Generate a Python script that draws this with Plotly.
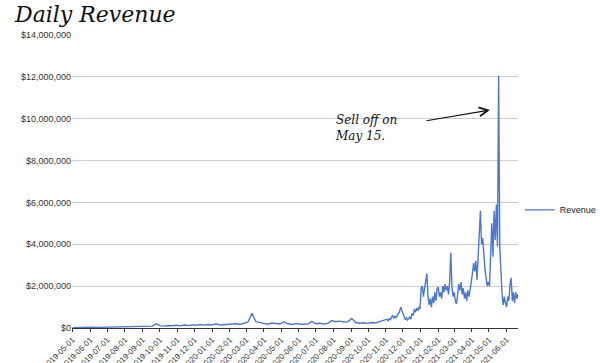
import pandas as pd
import plotly.graph_objects as go

# ---- data (values in thousands of dollars) ----
# weekly readings, 2019-05-01 .. 2020-10-28
weekly_start = "2019-05-01"
weekly_values_k = [
    20, 30, 25, 35, 30, 40, 30, 35, 45,
    40, 50, 45, 55, 60, 50, 65, 60, 70,
    80, 70, 90, 200,
    100, 90, 120, 110, 130, 100, 140, 120, 150,
    130, 160, 140, 170, 150, 200, 140, 160, 170,
    180, 200, 170, 240, 290, 700, 300, 260, 220, 180,
    240, 200, 190, 300, 200, 170, 210, 180, 200, 190,
    320, 200, 230, 190, 220, 360, 300, 330, 280, 300,
    460, 260, 230, 250, 220, 260, 240, 300, 380,
]

# readings every two days, 2020-11-01 .. 2021-06-21
daily_start = "2020-11-01"
nov_2020 = [380, 420, 350, 450, 400, 520, 600, 480, 550, 500, 620, 700, 780, 1000, 850]
dec_2020 = [600, 450, 400, 480, 380, 450, 520, 420, 700, 600, 900, 750, 950, 820, 1000, 900]
jan_2021 = [1900, 2000, 1500, 1900, 2200, 2600, 1500, 1100, 1400, 1000, 1500, 1200, 1700, 1300, 1900]
feb_2021 = [1950, 1500, 1700, 1400, 2000, 1700, 2100, 1800, 2000, 1600, 2200, 3600, 2000, 1500]
mar_2021 = [1700, 1300, 1150, 1600, 2100, 1800, 2200, 1600, 1900, 1400, 1700, 1300, 1800, 1500, 2000, 2200]
apr_2021 = [2600, 3100, 2700, 3200, 2300, 3800, 4500, 5600, 4000, 4300, 3300, 2800, 2400, 2000, 2200]
may_2021 = [2000, 3500, 5000, 3400, 5600, 4200, 5900, 3900, 12050, 3900, 2400, 1600, 1100, 1500, 1200]
jun_2021 = [1000, 1500, 1300, 2100, 2400, 1300, 1700, 1200, 1700, 1400, 1600]

y_tick_vals = [0, 2e6, 4e6, 6e6, 8e6, 10e6, 12e6, 14e6]
series_name = "Revenue"

# ---- build series ----
w_dates = pd.date_range(weekly_start, periods=len(weekly_values_k), freq="7D")
later_k = nov_2020 + dec_2020 + jan_2021 + feb_2021 + mar_2021 + apr_2021 + may_2021 + jun_2021
d_dates = pd.date_range(daily_start, periods=len(later_k), freq="2D")
dates = list(w_dates) + list(d_dates)
values = [v * 1000 for v in weekly_values_k + later_k]

fig = go.Figure()
fig.add_trace(go.Scatter(
    x=dates, y=values, mode="lines", name=series_name,
    line=dict(color="#4a78d0", width=1.4),
))

fig.update_layout(
    width=600, height=363,
    margin=dict(l=72, r=82, t=35, b=35, autoexpand=False),
    paper_bgcolor="white", plot_bgcolor="white",
    font=dict(family="Liberation Sans, Arial, sans-serif", size=9, color="#333333"),
    showlegend=True,
    legend=dict(x=1.004, xanchor="left", y=0.403, yanchor="middle",
                font=dict(size=9, color="#222222"), itemwidth=30,
                bgcolor="rgba(0,0,0,0)"),
    xaxis=dict(
        type="date", automargin=False,
        range=["2019-04-30", "2021-06-21"],
        tickformat="%Y-%m-%d", dtick="M1", tick0="2019-05-01",
        tickangle=-45, ticks="outside", ticklen=3, tickcolor="#333333",
        showgrid=False, showline=True, linecolor="#333333", linewidth=1,
        tickfont=dict(size=8, color="#333333"),
    ),
    yaxis=dict(
        automargin=False,
        range=[0, 14e6], tickvals=y_tick_vals, tickformat="$,.0f",
        showgrid=True, gridcolor="#cccccc", gridwidth=1,
        zeroline=False, showline=False, ticks="", ticklen=0,
        tickfont=dict(size=9, color="#333333"),
    ),
)

# handwritten-style title
fig.add_annotation(
    text="Daily Revenue", xref="paper", yref="paper",
    x=-0.135, y=1.118, xanchor="left", yanchor="top", showarrow=False,
    font=dict(family="DejaVu Serif, serif", size=22, color="#111111", style="italic"),
)

# note and arrow
fig.add_annotation(
    text="Sell off on<br>May 15.", xref="paper", yref="paper",
    x=0.585, y=0.683, xanchor="left", yanchor="middle", align="left",
    showarrow=False,
    font=dict(family="DejaVu Serif, serif", size=12, color="#111111", style="italic"),
)
fig.add_annotation(
    text="", xref="paper", yref="paper", x=0.937, y=0.744,
    ax=-65, ay=11, showarrow=True, arrowhead=5, arrowsize=1.6,
    arrowwidth=1.1, arrowcolor="#111111",
)

fig.write_html("out.html", config={"displayModeBar": False},
               post_script="document.body.style.margin='0';")
